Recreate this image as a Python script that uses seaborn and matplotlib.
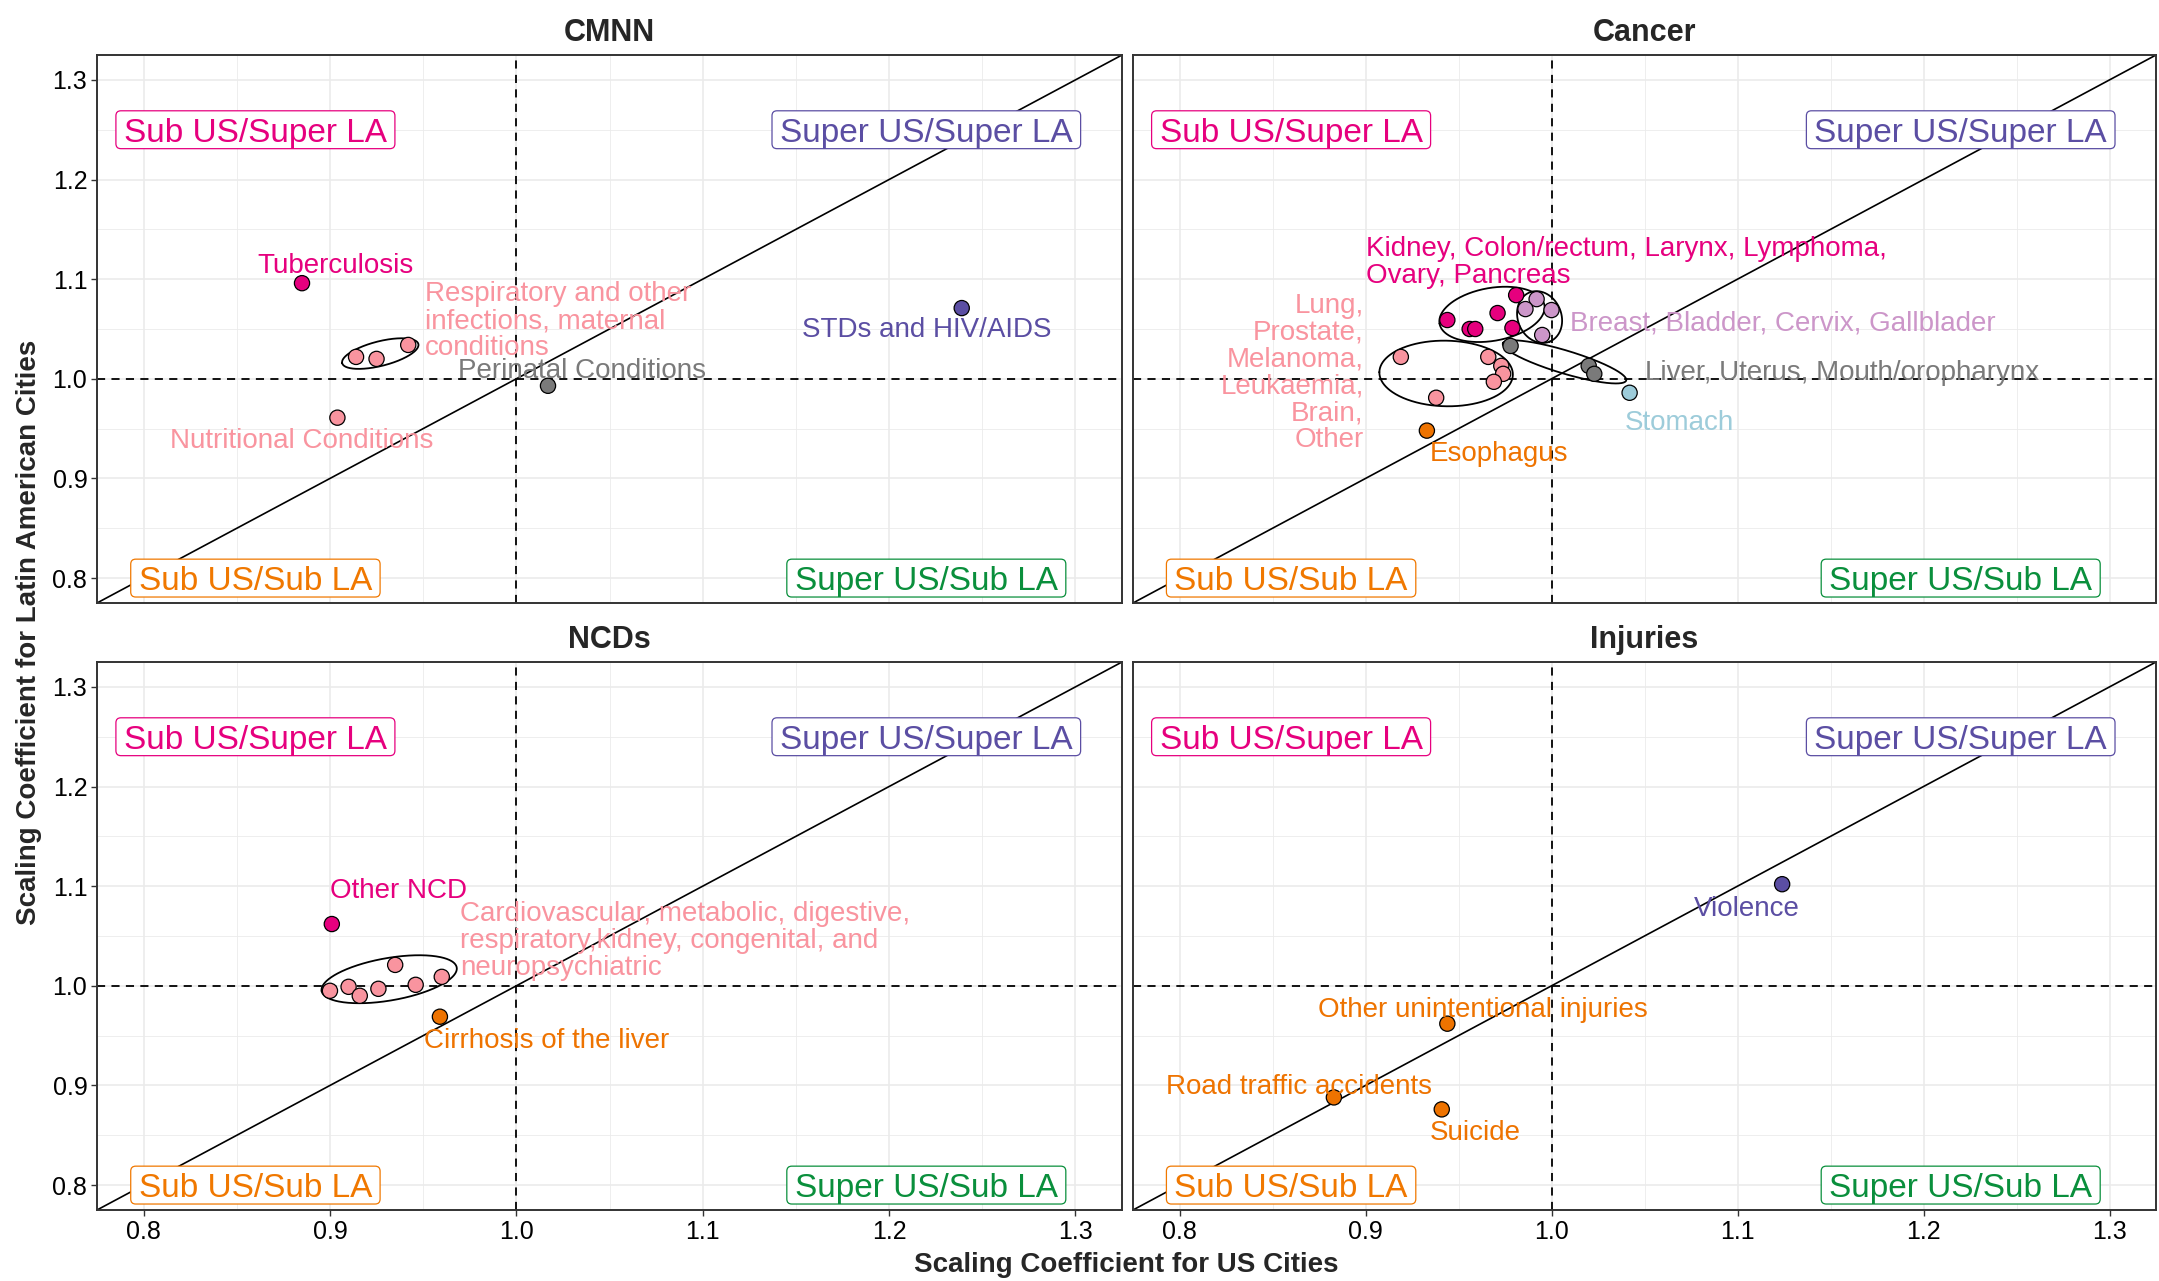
import numpy as np
import pandas as pd
import matplotlib
matplotlib.use("Agg")
import matplotlib.pyplot as plt
import seaborn as sns
from matplotlib.patches import FancyBboxPatch
from matplotlib.transforms import IdentityTransform

# ---------------------------------------------------------------- data
cmnn_cause = ["Tuberculosis", "Respiratory infections", "Other infections",
              "Maternal conditions", "Nutritional conditions",
              "Perinatal conditions", "STDs and HIV/AIDS"]
cmnn_us = [0.885, 0.914, 0.925, 0.942, 0.904, 1.017, 1.239]
cmnn_la = [1.096, 1.022, 1.020, 1.034, 0.961, 0.993, 1.071]
cmnn_tone = ["magenta", "pink", "pink", "pink", "pink", "grey", "indigo"]
cmnn_cluster = ["tb", "resp", "resp", "resp", "nutr", "peri", "std"]

cancer_cause = ["Kidney", "Colon/rectum", "Larynx", "Lymphoma", "Ovary", "Pancreas",
                "Breast", "Bladder", "Cervix", "Gallbladder",
                "Lung", "Prostate", "Melanoma", "Leukaemia", "Brain", "Other",
                "Liver", "Uterus", "Mouth/oropharynx", "Stomach", "Esophagus"]
cancer_us = [0.981, 0.944, 0.971, 0.956, 0.959, 0.979,
             0.992, 0.986, 1.000, 0.995,
             0.919, 0.966, 0.973, 0.974, 0.969, 0.938,
             0.978, 1.020, 1.023, 1.042, 0.933]
cancer_la = [1.084, 1.059, 1.066, 1.050, 1.050, 1.051,
             1.080, 1.070, 1.069, 1.044,
             1.022, 1.022, 1.013, 1.005, 0.997, 0.981,
             1.033, 1.013, 1.005, 0.986, 0.948]
cancer_tone = ["magenta"] * 6 + ["orchid"] * 4 + ["pink"] * 6 + ["grey"] * 3 + ["sky", "orange"]
cancer_cluster = ["kidney"] * 6 + ["breast"] * 4 + ["lung"] * 6 + ["liver"] * 3 + ["stomach", "esoph"]

ncd_cause = ["Other NCD", "Cardiovascular", "Metabolic", "Digestive", "Respiratory",
             "Kidney", "Congenital", "Neuropsychiatric", "Cirrhosis of the liver"]
ncd_us = [0.901, 0.900, 0.910, 0.916, 0.926, 0.935, 0.946, 0.960, 0.959]
ncd_la = [1.062, 0.995, 0.999, 0.990, 0.997, 1.021, 1.001, 1.009, 0.969]
ncd_tone = ["magenta"] + ["pink"] * 7 + ["orange"]
ncd_cluster = ["other"] + ["cardio"] * 7 + ["cirr"]

inj_cause = ["Violence", "Other unintentional injuries", "Road traffic accidents", "Suicide"]
inj_us = [1.124, 0.944, 0.883, 0.941]
inj_la = [1.102, 0.962, 0.888, 0.876]
inj_tone = ["indigo", "orange", "orange", "orange"]
inj_cluster = ["viol", "unint", "road", "suic"]

panel_names = ["CMNN", "Cancer", "NCDs", "Injuries"]

frames = []
for name, cause, us, la, tone, cl in [
        ("CMNN", cmnn_cause, cmnn_us, cmnn_la, cmnn_tone, cmnn_cluster),
        ("Cancer", cancer_cause, cancer_us, cancer_la, cancer_tone, cancer_cluster),
        ("NCDs", ncd_cause, ncd_us, ncd_la, ncd_tone, ncd_cluster),
        ("Injuries", inj_cause, inj_us, inj_la, inj_tone, inj_cluster)]:
    frames.append(pd.DataFrame({"panel": name, "cause": cause, "us": us, "la": la,
                                "tone": tone, "cluster": cl}))
df = pd.concat(frames, ignore_index=True)

# multi-point groups outlined with an enclosing ellipse
ringed = {"CMNN": ["resp"], "Cancer": ["kidney", "breast", "lung", "liver"],
          "NCDs": ["cardio"], "Injuries": []}

# group labels: text, tone, x, y, horizontal alignment
labels = {
    "CMNN": [
        ("Tuberculosis", "magenta", 0.903, 1.113, "center"),
        ("Respiratory and other\ninfections, maternal\nconditions", "pink", 0.951, 1.058, "left"),
        ("Perinatal Conditions", "grey", 1.035, 1.008, "center"),
        ("Nutritional Conditions", "pink", 0.885, 0.938, "center"),
        ("STDs and HIV/AIDS", "indigo", 1.220, 1.049, "center"),
    ],
    "Cancer": [
        ("Kidney, Colon/rectum, Larynx, Lymphoma,\nOvary, Pancreas", "magenta", 0.900, 1.117, "left"),
        ("Lung,\nProstate,\nMelanoma,\nLeukaemia,\nBrain,\nOther", "pink", 0.899, 1.006, "right"),
        ("Breast, Bladder, Cervix, Gallblader", "orchid", 1.010, 1.0555, "left"),
        ("Liver, Uterus, Mouth/oropharynx", "grey", 1.050, 1.0054, "left"),
        ("Stomach", "sky", 1.069, 0.956, "center"),
        ("Esophagus", "orange", 0.972, 0.925, "center"),
    ],
    "NCDs": [
        ("Other NCD", "magenta", 0.937, 1.095, "center"),
        ("Cardiovascular, metabolic, digestive,\nrespiratory,kidney, congenital, and\nneuropsychiatric",
         "pink", 0.970, 1.045, "left"),
        ("Cirrhosis of the liver", "orange", 1.016, 0.945, "center"),
    ],
    "Injuries": [
        ("Violence", "indigo", 1.105, 1.077, "center"),
        ("Other unintentional injuries", "orange", 0.963, 0.976, "center"),
        ("Road traffic accidents", "orange", 0.864, 0.898, "center"),
        ("Suicide", "orange", 0.959, 0.852, "center"),
    ],
}

quadrants = [("Sub US/Super LA", "quad_sub_super", 0.86, 1.25),
             ("Super US/Super LA", "quad_super_super", 1.22, 1.25),
             ("Sub US/Sub LA", "quad_sub_sub", 0.86, 0.80),
             ("Super US/Sub LA", "quad_super_sub", 1.22, 0.80)]

tones = {
    "magenta": "#E6007E",
    "pink": "#F9949F",
    "grey": "#7A7A7A",
    "indigo": "#5B4EA3",
    "orchid": "#CC96C9",
    "sky": "#9DCCDA",
    "orange": "#EE7300",
    "quad_sub_super": "#E6007E",
    "quad_super_super": "#5B4EA3",
    "quad_sub_sub": "#F07800",
    "quad_super_sub": "#0A8F3C",
}

# ---------------------------------------------------------------- style
sns.set_theme(style="white")
plt.rcParams["font.family"] = ["Liberation Sans", "DejaVu Sans"]

W, H = 2159, 1281
fig = plt.figure(figsize=(W / 100, H / 100), dpi=100)

frames_px = {"CMNN": (97, 55, 1122, 603), "Cancer": (1133, 55, 2156, 603),
             "NCDs": (97, 662, 1122, 1210), "Injuries": (1133, 662, 2156, 1210)}
lo, hi = 0.775, 1.325
majors = [0.8, 0.9, 1.0, 1.1, 1.2, 1.3]
minors = [0.85, 0.95, 1.05, 1.15, 1.25]


def mvee(P, tol=1e-9):
    """Minimum-volume enclosing ellipse (Khachiyan)."""
    n, d = P.shape
    Q = np.vstack([P.T, np.ones(n)])
    u = np.ones(n) / n
    for _ in range(5000):
        X = Q @ np.diag(u) @ Q.T
        M = np.einsum("ij,ji->i", Q.T @ np.linalg.inv(X), Q)
        j = np.argmax(M)
        step = (M[j] - d - 1) / ((d + 1) * (M[j] - 1))
        nu = (1 - step) * u
        nu[j] += step
        if np.linalg.norm(nu - u) < tol:
            u = nu
            break
        u = nu
    c = P.T @ u
    A = np.linalg.inv(P.T @ np.diag(u) @ P - np.outer(c, c)) / d
    return c, A


def ring(ax, xs, ys, margin=8.0):
    pts = ax.transData.transform(np.column_stack([xs, ys]))
    c, A = mvee(pts)
    vals, vecs = np.linalg.eigh(A)
    semi = 1.0 / np.sqrt(vals) + margin
    t = np.linspace(0, 2 * np.pi, 400)
    circ = np.vstack([semi[0] * np.cos(t), semi[1] * np.sin(t)])
    outline = (vecs @ circ).T + c
    data = ax.transData.inverted().transform(outline)
    ax.plot(data[:, 0], data[:, 1], color="black", lw=1.3, zorder=3)


axes = {}
quad_texts = []
for name in panel_names:
    x0, y0, x1, y1 = frames_px[name]
    ax = fig.add_axes([x0 / W, 1 - y1 / H, (x1 - x0) / W, (y1 - y0) / H])
    axes[name] = ax
    ax.set_xlim(lo, hi)
    ax.set_ylim(lo, hi)
    ax.set_xticks(majors)
    ax.set_yticks(majors)
    ax.set_xticks(minors, minor=True)
    ax.set_yticks(minors, minor=True)
    ax.grid(True, which="major", color="#EBEBEB", lw=1.2, zorder=0)
    ax.grid(True, which="minor", color="#EBEBEB", lw=0.6, zorder=0)
    ax.set_axisbelow(True)
    for s in ax.spines.values():
        s.set_color("#333333")
        s.set_linewidth(1.4)
    bottom_row = name in ("NCDs", "Injuries")
    left_col = name in ("CMNN", "NCDs")
    ax.tick_params(axis="x", which="major", bottom=bottom_row, labelbottom=bottom_row,
                   length=4, width=1.0, color="#333333", labelsize=18, pad=3,
                   labelcolor="black")
    ax.tick_params(axis="y", which="major", left=left_col, labelleft=left_col,
                   length=4, width=1.0, color="#333333", labelsize=18, pad=3,
                   labelcolor="black")
    ax.tick_params(which="minor", bottom=False, left=False)
    ax.set_xticklabels([f"{v:.1f}" for v in majors])
    ax.set_yticklabels([f"{v:.1f}" for v in majors])

    # reference lines
    ax.plot([lo, hi], [lo, hi], color="black", lw=1.2, zorder=2)
    ax.axvline(1.0, color="black", lw=1.3, ls=(0, (4.5, 3.5)), zorder=2)
    ax.axhline(1.0, color="black", lw=1.3, ls=(0, (4.5, 3.5)), zorder=2)

    sub = df[df["panel"] == name]
    for cl in ringed[name]:
        g = sub[sub["cluster"] == cl]
        ring(ax, g["us"].values, g["la"].values)

    sns.scatterplot(data=sub, x="us", y="la", hue="tone", palette=tones,
                    s=120, edgecolor="black", linewidth=0.9, legend=False,
                    ax=ax, zorder=4)
    ax.set_xlabel("")
    ax.set_ylabel("")

    for txt, tone, lx, ly, ha in labels[name]:
        ax.text(lx, ly, txt, color=tones[tone], fontsize=20, ha=ha, va="center",
                linespacing=1.04, zorder=5)

    for txt, tone, qx, qy in quadrants:
        t = ax.annotate(txt, (qx, qy), xytext=(0, -0.716 * 24 / 2),
                        textcoords="offset points", ha="center", va="baseline",
                        color=tones[tone], fontsize=24, zorder=7)
        quad_texts.append((ax, t, tone, qx, qy))

    fig.text(((x0 + x1) / 2) / W, 1 - (y0 - 22) / H, name, ha="center", va="center",
             fontsize=22, fontweight="bold")

# rounded boxes behind the quadrant labels
renderer = fig.canvas.get_renderer()
cap = 0.716 * 24 * 100 / 72
for ax, t, tone, qx, qy in quad_texts:
    bb = t.get_window_extent(renderer)
    base = ax.transData.transform((qx, qy))[1] - cap / 2
    patch = FancyBboxPatch((bb.x0 - 8, base - 7), bb.width + 16, cap + 14,
                           boxstyle="round,pad=0,rounding_size=5",
                           transform=IdentityTransform(), facecolor="white",
                           edgecolor=tones[tone], lw=0.9, zorder=6, clip_on=False)
    ax.add_artist(patch)

fig.text(1126 / W, 1 - 1265 / H, "Scaling Coefficient for US Cities", ha="center",
         va="center", fontsize=20, fontweight="bold")
fig.text(29 / W, 1 - 632 / H, "Scaling Coefficient for Latin American Cities",
         ha="center", va="center", rotation=90, fontsize=20, fontweight="bold")

fig.savefig("out.png", dpi=100, facecolor="white")
